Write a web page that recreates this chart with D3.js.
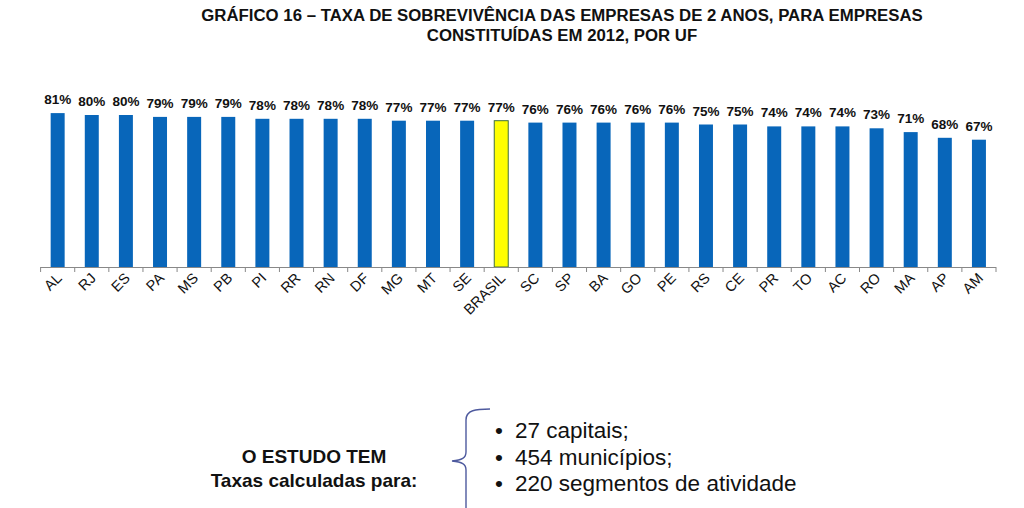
<!DOCTYPE html>
<html>
<head>
<meta charset="utf-8">
<script src="https://cdn.jsdelivr.net/npm/d3@7"></script>
<style>
  html, body { margin: 0; padding: 0; background: #fff; }
  svg { display: block; font-family: "Liberation Sans", Arial, sans-serif; }
</style>
</head>
<body>
<svg id="chart" width="1024" height="508"></svg>
<script>
const categories = ["AL","RJ","ES","PA","MS","PB","PI","RR","RN","DF","MG","MT","SE","BRASIL","SC","SP","BA","GO","PE","RS","CE","PR","TO","AC","RO","MA","AP","AM"];
const values = [81,80,80,79,79,79,78,78,78,78,77,77,77,77,76,76,76,76,76,75,75,74,74,74,73,71,68,67];
const highlight = ["BRASIL"];
const titleLines = ["GRÁFICO 16 – TAXA DE SOBREVIVÊNCIA DAS EMPRESAS DE 2 ANOS, PARA EMPRESAS", "CONSTITUÍDAS EM 2012, POR UF"];
const noteLeft = ["O ESTUDO TEM", "Taxas calculadas para:"];
const noteBullets = ["27 capitais;", "454 municípios;", "220 segmentos de atividade"];

const svg = d3.select("#chart");
const data = categories.map((c, i) => ({ cat: c, val: values[i] }));

const x = d3.scaleBand().domain(categories).range([40.6, 996]).paddingInner(0.59).paddingOuter(0.295);
const y = d3.scaleLinear().domain([0, 100]).range([267, 77]);

// Title
svg.append("g").selectAll("text").data(titleLines).join("text")
  .attr("x", 562).attr("y", (d, i) => 21 + i * 20)
  .attr("text-anchor", "middle")
  .attr("font-size", 16.8).attr("font-weight", "bold").attr("fill", "#111")
  .text(d => d);

// Bars
svg.append("g").selectAll("rect").data(data).join("rect")
  .attr("x", d => x(d.cat))
  .attr("y", d => y(d.val))
  .attr("width", x.bandwidth())
  .attr("height", d => y(0) - y(d.val))
  .attr("fill", d => highlight.includes(d.cat) ? "#ffff00" : "#0866ba")
  .attr("stroke", d => highlight.includes(d.cat) ? "#3f6f3f" : "none")
  .attr("stroke-width", 1);

// Value labels
svg.append("g").selectAll("text").data(data).join("text")
  .attr("x", d => x(d.cat) + x.bandwidth() / 2)
  .attr("y", d => y(d.val) - 9)
  .attr("text-anchor", "middle")
  .attr("font-size", 13.5).attr("font-weight", "bold").attr("fill", "#111")
  .text(d => d.val + "%");

// Axis
const axisG = svg.append("g").attr("transform", `translate(0,${y(0)})`);
const step = x.step();
const x0 = x.range()[0];
axisG.append("line").attr("x1", x0).attr("x2", x.range()[1]).attr("y1", 0.5).attr("y2", 0.5)
  .attr("stroke", "#888").attr("stroke-width", 1);
axisG.selectAll("line.tick").data(d3.range(categories.length + 1)).join("line")
  .attr("class", "tick")
  .attr("x1", i => x0 + i * step).attr("x2", i => x0 + i * step)
  .attr("y1", 0).attr("y2", 5)
  .attr("stroke", "#888").attr("stroke-width", 1);
axisG.selectAll("text").data(categories).join("text")
  .attr("transform", d => `translate(${x(d) + x.bandwidth() / 2 + 5},${12}) rotate(-45)`)
  .attr("text-anchor", "end")
  .attr("font-size", 14.5).attr("fill", "#111")
  .text(d => d);

// Note block
svg.append("g").selectAll("text").data(noteLeft).join("text")
  .attr("x", 314).attr("y", (d, i) => 463 + i * 24)
  .attr("text-anchor", "middle")
  .attr("font-size", 19).attr("font-weight", "bold").attr("fill", "#111")
  .text(d => d);

// Brace
svg.append("path")
  .attr("d", "M490,409 C476,409 466,410 466,420 L466,452 C466,458 462,460 452,461 C462,462 466,464 466,470 L466,510")
  .attr("fill", "none").attr("stroke", "#4e5a9e").attr("stroke-width", 1.4);

const bg = svg.append("g").selectAll("g").data(noteBullets).join("g")
  .attr("transform", (d, i) => `translate(0,${438 + i * 26.5})`);
bg.append("text").attr("x", 495).attr("y", 0).attr("font-size", 22.5).attr("fill", "#111").text("•");
bg.append("text").attr("x", 515).attr("y", 0).attr("font-size", 22.5).attr("fill", "#111").text(d => d);
</script>
</body>
</html>
